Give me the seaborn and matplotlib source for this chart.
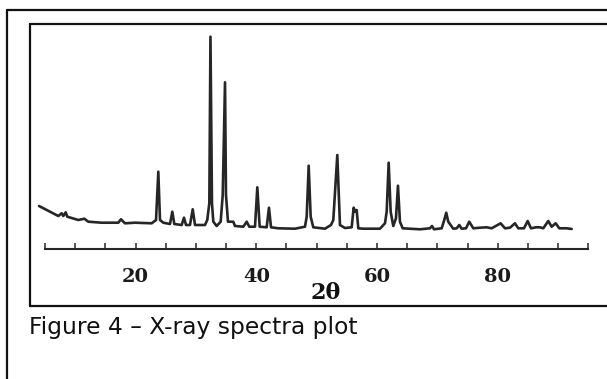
import numpy as np
import pandas as pd
import matplotlib
matplotlib.use("Agg")
import matplotlib.pyplot as plt
from matplotlib.lines import Line2D
import seaborn as sns

# trace (2theta in degrees, intensity in arbitrary units)
two_theta = [4.01, 5.83, 7.20, 7.77, 8.03, 8.43, 8.69, 10.52, 11.51, 12.17,
             14.39, 17.14, 17.59, 18.25, 19.91, 22.67, 23.39, 23.77, 24.05, 24.60,
             25.71, 26.09, 26.42, 27.64, 28.02, 28.36, 29.02, 29.47, 29.85, 31.50,
             31.88, 32.22, 32.41, 32.66, 32.88, 33.44, 34.10, 34.44, 34.82, 34.98,
             35.31, 36.19, 36.47, 37.85, 38.41, 38.84, 39.79, 40.17, 40.56, 41.72,
             42.10, 42.44, 43.65, 46.41, 48.07, 48.35, 48.68, 49.01, 49.44, 51.38,
             52.37, 52.76, 53.42, 53.86, 54.69, 55.80, 56.13, 56.40, 56.63, 56.90,
             57.72, 60.49, 61.32, 61.60, 61.93, 62.26, 62.69, 63.14, 63.47, 63.80,
             64.25, 67.12, 68.77, 69.11, 69.44, 70.71, 71.14, 71.47, 71.80, 72.63,
             73.20, 73.63, 74.02, 74.74, 75.28, 75.95, 77.06, 78.17, 78.99, 80.48,
             81.20, 82.03, 82.85, 83.40, 84.34, 84.96, 85.50, 86.33, 86.99, 87.54,
             88.37, 88.93, 89.60, 90.19, 91.42, 92.25]
intensity = [43, 37.3, 33, 35.7, 33, 36.7, 32.3, 29, 30.3, 27.3,
             26.3, 26.3, 29.7, 25.7, 26.3, 25.7, 29, 77.3, 29, 26.3,
             25, 37.3, 25, 24, 31.3, 24, 24, 39.7, 24, 24,
             29, 45.7, 212.3, 45.7, 27.3, 23, 27.3, 54, 166.7, 54,
             27.3, 27.3, 23, 22.3, 27.3, 22.3, 22.3, 61.7, 22.3, 21.7,
             41.3, 21.7, 20.7, 20.3, 22.3, 32.3, 83.3, 32.3, 21.7, 20.3,
             24, 29, 94, 24, 21, 21.7, 41.3, 37.3, 39, 20.7,
             20.3, 20.3, 25.7, 37.3, 86.3, 37.3, 23, 30.7, 63.3, 27.3,
             20.7, 19.7, 20.7, 23, 19.7, 20.7, 29, 36.3, 27.3, 20.3,
             20.7, 24, 20.3, 20.7, 27.3, 20.7, 21.3, 21.7, 20.7, 25.7,
             20.7, 21.3, 25.7, 20.7, 20.7, 28, 20.7, 21.7, 21.7, 20.7,
             28, 22.3, 25.7, 20.7, 20.7, 20]

tick_positions = list(range(5, 96, 5))
labelled_ticks = [20, 40, 60, 80]

df = pd.DataFrame({"two_theta": two_theta, "intensity": intensity})

sns.set_style("white")
plt.rcParams["font.family"] = ["DejaVu Serif"]

ink = "#262626"
W, H = 607, 379
fig = plt.figure(figsize=(W / 100, H / 100), dpi=100)


def frame_line(x0, y0, x1, y1):
    # pixel coords measured from the top-left of the page
    fig.add_artist(Line2D([x0 / W, x1 / W], [1 - y0 / H, 1 - y1 / H],
                          transform=fig.transFigure, lw=1.6, color="#111111"))


# page frames (right and bottom edges fall outside the scan)
frame_line(7, 10, 610, 10)
frame_line(7, 10, 7, 385)
frame_line(30, 24, 610, 24)
frame_line(30, 24, 30, 306)
frame_line(30, 306, 610, 306)

ax = fig.add_axes([45 / W, (H - 249) / H, (588.3 - 45) / W, (249 - 30) / H])
ax.patch.set_alpha(0)
sns.lineplot(data=df, x="two_theta", y="intensity", ax=ax, color=ink, lw=1.9,
             estimator=None, sort=False)
ax.lines[0].set_clip_on(False)

ax.set_xlim(5, 95)
ax.set_ylim(0, 219)
for side in ["left", "top", "right"]:
    ax.spines[side].set_visible(False)
ax.spines["bottom"].set_color(ink)
ax.spines["bottom"].set_linewidth(1.5)
ax.set_yticks([])
ax.set_xticks(tick_positions)
ax.set_xticklabels([str(t) if t in labelled_ticks else "" for t in tick_positions])
ax.tick_params(axis="x", bottom=True, direction="in", length=4, width=1.1, color=ink,
               labelsize=14, pad=14)
for lab in ax.get_xticklabels():
    lab.set_fontweight("bold")
    lab.set_color("#1a1a1a")
ax.set_ylabel("")
ax.set_xlabel("2θ", fontsize=16, fontweight="bold", color="#111111")
ax.xaxis.set_label_coords((326 - 45) / (588.3 - 45), -(293 - 249) / 219)
ax.xaxis.label.set_va("center")

fig.text(29 / W, 1 - 334 / H, "Figure 4 \u2013 X-ray spectra plot",
         family=["DejaVu Sans"], fontsize=16.8, color="#111111", va="baseline")

fig.savefig("out.png", dpi=100)
